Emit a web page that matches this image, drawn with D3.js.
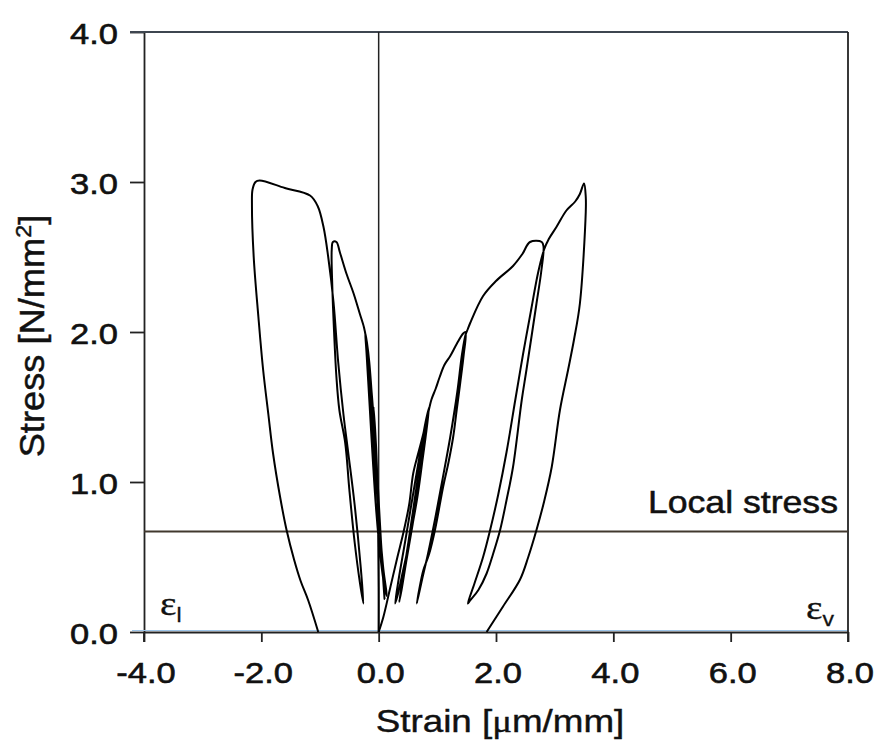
<!DOCTYPE html>
<html>
<head>
<meta charset="utf-8">
<script src="https://cdn.jsdelivr.net/npm/d3@7"></script>
<style>
    body { margin: 0; background: #fff; }
    svg { display: block; }
</style>
</head>
<body>
<div id="draw"></div>
<script>
//尺寸
var w = 877;
var h = 743;

//坐标刻度
var xTicks = [-4, -2, 0, 2, 4, 6, 8];
var yTicks = [0, 1, 2, 3, 4];
var localStress = 0.67;

//横向应变 ε_l  [strain, stress]
var lateralPath = [
    [0, 0], [0.0, 0.3], [-0.01, 0.7], [-0.03, 1.1], [-0.06, 1.35], [-0.09, 1.5],
    [-0.06, 1.3], [-0.01, 0.95], [0.04, 0.6], [0.08, 0.38], [0.1, 0.22],
    [0.06, 0.45], [0.0, 0.85], [-0.05, 1.2], [-0.09, 1.45], [-0.12, 1.6], [-0.16, 1.8],
    [-0.2, 1.93], [-0.23, 2.0],
    [-0.21, 1.88], [-0.16, 1.55], [-0.1, 1.15], [-0.04, 0.8], [0.03, 0.5], [0.1, 0.3], [0.14, 0.24],
    [0.08, 0.42], [0.0, 0.78], [-0.07, 1.15], [-0.13, 1.5], [-0.18, 1.82], [-0.22, 1.97], [-0.25, 2.03],
    [-0.32, 2.12], [-0.43, 2.26], [-0.55, 2.39], [-0.66, 2.53], [-0.72, 2.6], [-0.78, 2.6],
    [-0.8, 2.55], [-0.79, 2.3], [-0.76, 2.0], [-0.72, 1.7], [-0.67, 1.48], [-0.57, 1.26],
    [-0.5, 0.95], [-0.41, 0.6], [-0.32, 0.33], [-0.26, 0.19],
    [-0.31, 0.45], [-0.41, 0.85], [-0.52, 1.2], [-0.6, 1.45], [-0.69, 1.8], [-0.77, 2.2],
    [-0.86, 2.5], [-0.94, 2.7], [-1.04, 2.84], [-1.17, 2.91], [-1.6, 2.96], [-2.03, 3.01],
    [-2.1, 3.0], [-2.15, 2.95], [-2.16, 2.85], [-2.13, 2.5], [-2.05, 2.1], [-1.97, 1.75],
    [-1.88, 1.45], [-1.8, 1.19], [-1.68, 0.9], [-1.57, 0.68], [-1.44, 0.48], [-1.33, 0.34],
    [-1.2, 0.21], [-1.03, 0]
];

//体积应变 ε_v  [strain, stress]
var volumePath = [
    [0, 0], [0.08, 0.1], [0.2, 0.3], [0.32, 0.5], [0.42, 0.66], [0.52, 0.85],
    [0.59, 1.06], [0.68, 1.2], [0.76, 1.32], [0.85, 1.48],
    [0.78, 1.25], [0.66, 0.9], [0.52, 0.6], [0.4, 0.38], [0.32, 0.24], [0.28, 0.19],
    [0.34, 0.35], [0.45, 0.6], [0.57, 0.88], [0.7, 1.18], [0.8, 1.4], [0.86, 1.5],
    [0.8, 1.3], [0.7, 1.02], [0.58, 0.72], [0.47, 0.47], [0.39, 0.28], [0.35, 0.2],
    [0.42, 0.38], [0.53, 0.66], [0.65, 0.98], [0.76, 1.27], [0.84, 1.45], [0.9, 1.55],
    [0.97, 1.62], [1.04, 1.7], [1.12, 1.78], [1.22, 1.84], [1.33, 1.92], [1.44, 1.99], [1.48, 2.0],
    [1.45, 1.85], [1.39, 1.66], [1.33, 1.48], [1.27, 1.3], [1.19, 1.13], [1.1, 0.97],
    [0.96, 0.68], [0.86, 0.52], [0.76, 0.41], [0.69, 0.28], [0.65, 0.19],
    [0.74, 0.35], [0.84, 0.52], [0.96, 0.75], [1.08, 1.0], [1.22, 1.3], [1.34, 1.6],
    [1.42, 1.85], [1.48, 1.98], [1.52, 2.02], [1.56, 2.06], [1.78, 2.24], [2.0, 2.34],
    [2.29, 2.44], [2.45, 2.52], [2.58, 2.6], [2.78, 2.6], [2.81, 2.57],
    [2.77, 2.4], [2.69, 2.19], [2.52, 1.75], [2.44, 1.55], [2.29, 1.1], [2.18, 0.88],
    [2.07, 0.68], [1.95, 0.52], [1.84, 0.39], [1.7, 0.28], [1.56, 0.21], [1.52, 0.19],
    [1.63, 0.32], [1.78, 0.5], [1.9, 0.68], [2.04, 0.92], [2.18, 1.2], [2.33, 1.55],
    [2.46, 1.85], [2.6, 2.15], [2.72, 2.4], [2.82, 2.55], [2.9, 2.62], [3.03, 2.7],
    [3.2, 2.81], [3.35, 2.87], [3.43, 2.92], [3.5, 2.99],
    [3.53, 2.9], [3.53, 2.8], [3.43, 2.19], [3.33, 1.95], [3.23, 1.75], [3.09, 1.48],
    [2.95, 1.1], [2.82, 0.87], [2.69, 0.68], [2.55, 0.5], [2.41, 0.35], [2.12, 0.17], [1.84, 0]
];

//创建SVG
var svg = d3.select("#draw")
    .append("svg")
    .attr("width", w)
    .attr("height", h);

svg.append("rect")
    .attr("width", w)
    .attr("height", h)
    .attr("fill", "#fff");

var x = d3.scaleLinear().domain([-4, 8]).range([144, 848]);
var y = d3.scaleLinear().domain([0, 4]).range([632, 32]);

var font = "'Liberation Sans', Arial, sans-serif";
var stretch = 1.15;     //原图横向拉伸

//坐标轴
var yAxis = svg.append("g")
    .attr("transform", "translate(" + x(-4) + ",0)")
    .call(d3.axisLeft(y).tickValues(yTicks).tickSize(14).tickSizeOuter(0).tickFormat(""));
var xAxis = svg.append("g")
    .attr("transform", "translate(0," + y(0) + ")")
    .call(d3.axisBottom(x).tickValues(xTicks).tickSize(10).tickSizeOuter(0).tickFormat(""));
[yAxis, xAxis].forEach(function (g) {
    g.select(".domain").attr("stroke", "#222").attr("stroke-width", 1.8);
    g.selectAll(".tick line").attr("stroke", "#222").attr("stroke-width", 1.8);
});
//左轴延伸到-4.0刻度
svg.append("line")
    .attr("x1", x(-4)).attr("x2", x(-4))
    .attr("y1", y(0)).attr("y2", y(0) + 10)
    .attr("stroke", "#222").attr("stroke-width", 1.8);

//底部浅蓝色线
svg.append("line")
    .attr("x1", x(-4) - 12).attr("x2", x(8))
    .attr("y1", y(0) - 1.5).attr("y2", y(0) - 1.5)
    .attr("stroke", "#9cc4e8").attr("stroke-width", 1);

//上边框、右边框
svg.append("line")
    .attr("x1", x(-4) - 14).attr("x2", x(8))
    .attr("y1", y(4)).attr("y2", y(4))
    .attr("stroke", "#3e4650").attr("stroke-width", 1.8);
svg.append("line")
    .attr("x1", x(8)).attr("x2", x(8))
    .attr("y1", y(4)).attr("y2", y(0) + 10)
    .attr("stroke", "#222").attr("stroke-width", 1.8);

//零应变竖线
svg.append("line")
    .attr("x1", x(0)).attr("x2", x(0))
    .attr("y1", y(4)).attr("y2", y(0))
    .attr("stroke", "#222").attr("stroke-width", 1.5);

//局部应力线
svg.append("line")
    .attr("x1", x(-4)).attr("x2", x(8))
    .attr("y1", y(localStress)).attr("y2", y(localStress))
    .attr("stroke", "#41382e").attr("stroke-width", 2);

//文字加粗一点
function ink(sel, sw) {
    sel.attr("fill", "#111").attr("stroke", "#111").attr("stroke-width", sw);
}

//刻度文字
svg.selectAll("text.ylab")
    .data(yTicks)
    .enter()
    .append("text")
    .attr("class", "ylab")
    .attr("transform", function (d) {
        return "translate(118," + (y(d) + 12) + ") scale(" + stretch + ",1)";
    })
    .attr("text-anchor", "end")
    .attr("font-family", font)
    .attr("font-size", "30px")
    .call(ink, 0.6)
    .text(function (d) { return d.toFixed(1); });

svg.selectAll("text.xlab")
    .data(xTicks)
    .enter()
    .append("text")
    .attr("class", "xlab")
    .attr("transform", function (d) {
        return "translate(" + (x(d) + 2) + ",683) scale(" + stretch + ",1)";
    })
    .attr("text-anchor", "middle")
    .attr("font-family", font)
    .attr("font-size", "30px")
    .call(ink, 0.6)
    .text(function (d) { return d.toFixed(1); });

//轴标题
var xt = svg.append("text")
    .attr("transform", "translate(500,732) scale(" + stretch + ",1)")
    .attr("text-anchor", "middle")
    .attr("font-family", font)
    .attr("font-size", "32px")
    .call(ink, 0.4);
xt.append("tspan").text("Strain [");
xt.append("tspan").attr("font-family", "'Liberation Serif', serif").text("μ");
xt.append("tspan").text("m/mm]");

var yt = svg.append("text")
    .attr("transform", "translate(44,336) rotate(-90) scale(1.17,1.12)")
    .attr("text-anchor", "middle")
    .attr("font-family", font)
    .attr("font-size", "31px")
    .call(ink, 0.4);
yt.append("tspan").text("Stress [N/mm");
yt.append("tspan").attr("font-size", "20px").attr("dy", -12).text("2");
yt.append("tspan").attr("dy", 12).text("]");

//Local stress
svg.append("text")
    .attr("transform", "translate(838,513) scale(" + stretch + ",1)")
    .attr("text-anchor", "end")
    .attr("font-family", font)
    .attr("font-size", "31px")
    .call(ink, 0.5)
    .text("Local stress");

//ε标注
function epsLabel(px, py, sub) {
    var t = svg.append("text")
        .attr("transform", "translate(" + px + "," + py + ") scale(" + stretch + ",1)")
        .attr("font-family", "'Liberation Serif', 'Times New Roman', serif")
        .attr("font-size", "34px")
        .call(ink, 0.3);
    t.append("tspan").text("ε");
    t.append("tspan").attr("font-family", font).attr("font-size", "20px").attr("dy", 7).text(sub);
}
epsLabel(160, 615, "l");
epsLabel(806, 619, "v");

//曲线
var line = d3.line()
    .x(function (d) { return x(d[0]); })
    .y(function (d) { return y(d[1]); })
    .curve(d3.curveCatmullRom.alpha(0.5));

[lateralPath, volumePath].forEach(function (p) {
    svg.append("path")
        .datum(p)
        .attr("d", line)
        .attr("fill", "none")
        .attr("stroke", "#000")
        .attr("stroke-width", 2)
        .attr("stroke-linejoin", "round");
});
</script>
</body>
</html>
